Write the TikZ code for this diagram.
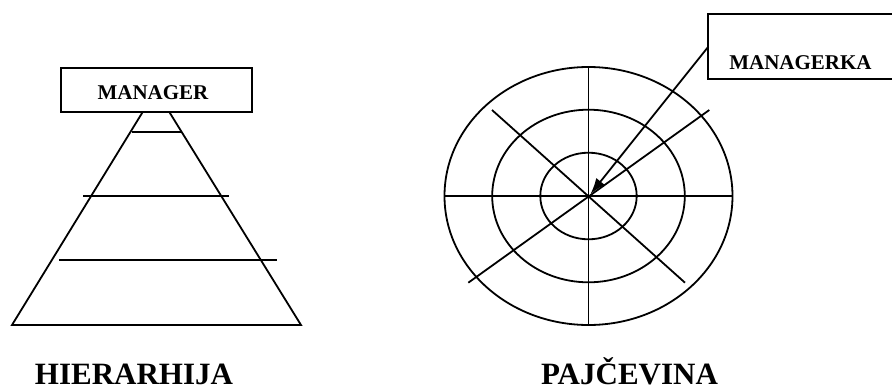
\documentclass[tikz,border=0pt]{standalone}
\usepackage{fontspec}
\setmainfont{Liberation Serif}
\usetikzlibrary{arrows.meta}
\begin{document}
\begin{tikzpicture}[x=1pt,y=-1pt,
  ln/.style={line width=1.8pt,line cap=butt},
  lbl/.style={font=\fontsize{21}{21}\selectfont\bfseries,inner sep=0pt,anchor=base},
  big/.style={font=\fontsize{31}{31}\selectfont\bfseries,inner sep=0pt,anchor=base}]
\clip (0,0) rectangle (892,389);
\useasboundingbox (0,0) rectangle (892,389);
% ---------- pyramid ----------
\coordinate (tl) at (143,111.5);
\coordinate (tr) at (169,111.5);
\coordinate (bl) at (12,325);
\coordinate (br) at (301,325);
\draw[ln] (tl) -- (bl) -- (br) -- (tr);
\coordinate (h1a) at (132,132); \coordinate (h1b) at (181,132);
\coordinate (h2a) at (83,196);  \coordinate (h2b) at (229,196);
\coordinate (h3a) at (59,260);  \coordinate (h3b) at (277,260);
\draw[ln] (h1a) -- (h1b);
\draw[ln] (h2a) -- (h2b);
\draw[ln] (h3a) -- (h3b);
\draw[ln,fill=white] (60.7,68.3) rectangle (252.3,111.7);
\node[lbl] (manager) at (153,99) {MANAGER};
\node[big] (hier) at (134,384) {HIERARHIJA};
% ---------- web ----------
\coordinate (c) at (588.5,196);
\draw[ln] (c) ellipse [x radius=144pt, y radius=129pt];
\draw[ln] (c) ellipse [x radius=96.3pt, y radius=86.3pt];
\draw[ln] (c) ellipse [x radius=48.2pt, y radius=43.3pt];
\coordinate (vt) at (588.5,67);   \coordinate (vb) at (588.5,325);
\coordinate (hl) at (444.5,196);  \coordinate (hr) at (732.5,196);
\coordinate (d1a) at (492,110);   \coordinate (d1b) at (685,282.7);
\coordinate (d2a) at (709.3,110); \coordinate (d2b) at (468.3,282.7);
\draw[ln] (vt) -- (vb);
\draw[ln] (hl) -- (hr);
\draw[ln] (d1a) -- (d1b);
\draw[ln] (d2a) -- (d2b);
\draw[ln] (895,14.3) -- (708.3,14.3) -- (708.3,79) -- (895,79);
\coordinate (bx) at (708.3,46.7);
\coordinate (tip) at (590.5,194);
\draw[ln,-{Latex[length=16pt,width=11pt]}] (bx) -- (tip);
\node[lbl] (managerka) at (800.5,69) {MANAGERKA};
\node[big] (paj) at (629.5,384) {PAJČEVINA};
\end{tikzpicture}
\end{document}
